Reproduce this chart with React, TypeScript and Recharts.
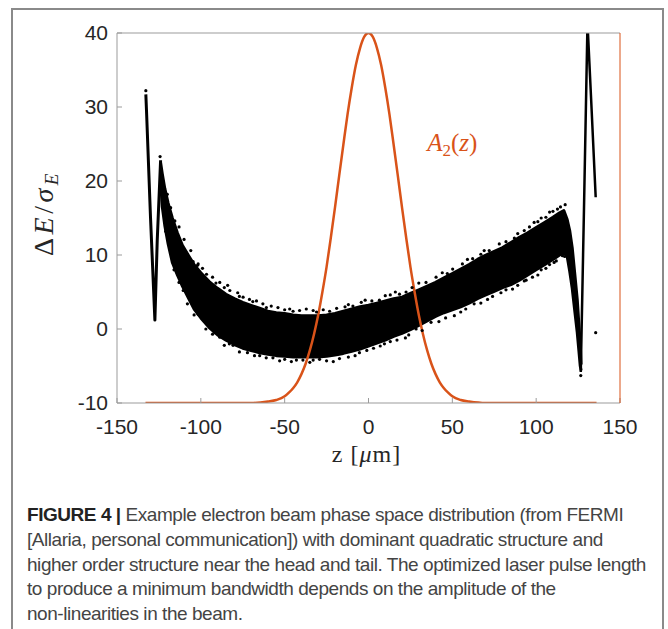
import React from "react";
import { ComposedChart, Area, Line, Scatter, XAxis, YAxis, ReferenceDot } from "recharts";

const ORANGE = "#D95319";
const AXIS_GREY = "#9b9b9b";
const TEXT = "#262626";

const xTicks = [-150, -100, -50, 0, 50, 100, 150];
const yTicks = [-10, 0, 10, 20, 30, 40];

// dense core of the beam: z [um], lower / upper edge of the black band
const bandZ = [-124, -123, -121.5, -119.5, -117, -114, -111, -107, -104, -100, -95, -90, -85, -80, -75, -70, -65, -60, -55, -50, -45, -40, -35, -30, -25, -20, -15, -10, -5, 0, 5, 10, 15, 20, 25, 30, 35, 40, 45, 50, 55, 60, 65, 70, 75, 80, 85, 90, 95, 100, 105, 110, 114, 116.5, 118.5, 120, 121.5, 123, 124.5, 125.5, 126.3, 126.8];
const bandLo = [20, 16.5, 14, 11.5, 9, 7.3, 5.8, 4, 2.7, 1.5, 0.2, -0.8, -1.5, -2.1, -2.6, -2.9, -3.2, -3.4, -3.6, -3.7, -3.8, -3.8, -3.8, -3.8, -3.7, -3.5, -3.3, -3.0, -2.7, -2.3, -1.9, -1.5, -1.0, -0.6, -0.1, 0.5, 1.1, 1.7, 2.2, 2.6, 3.0, 3.5, 4.1, 4.6, 5.1, 5.6, 6.0, 6.6, 7.3, 8.0, 8.7, 9.4, 10.0, 10.4, 9.8, 7.8, 5.5, 2.5, -0.5, -3, -5, -5.6];
const bandHi = [22.5, 21, 19, 17, 15, 13, 11.3, 9.8, 8.7, 7.6, 6.4, 5.5, 4.7, 4.1, 3.6, 3.2, 2.8, 2.4, 2.2, 2.1, 1.9, 1.8, 1.8, 1.8, 1.9, 2.1, 2.4, 2.7, 3.0, 3.2, 3.5, 3.8, 4.1, 4.3, 4.8, 5.3, 5.8, 6.3, 6.9, 7.5, 8.1, 8.7, 9.4, 10.0, 10.5, 11.0, 11.7, 12.4, 13.0, 13.7, 14.4, 15.1, 15.7, 16.0, 14.8, 13.3, 11, 7.5, 4, 0.5, -2, -4.8];

// head streak (left) and tail streak (right)
const headZ = [-132.8, -132.4, -130, -127.4, -126, -124];
const headV = [31.7, 29.5, 15, 1.2, 12, 22.8];
const tailZ = [126.6, 128.5, 130.5, 130.9, 133, 135.5];
const tailV = [-5.8, 16, 40, 40, 30, 17.8];

// loose particles above the band
const upperStrayZ = [-124.3, -120, -118, -115.5, -113, -110, -108.1, -106, -104.6, -102, -101.6, -99, -96.6, -93, -91, -88.7, -86, -84, -82.7, -78, -77, -74.8, -71, -69, -66.8, -63, -60.9, -58, -54, -50, -47, -45, -41.1, -37.1, -33, -31, -27, -23.2, -19, -14, -12, -9.3, -4.3, -2, 2, 6.5, 10, 13, 16, 18.5, 22.4, 26, 30, 34.3, 40.3, 44, 47, 50.2, 56, 59, 62.1, 67, 69, 72, 78, 82, 87, 89, 92.9, 96, 98.8, 101, 103, 105.8, 108, 110, 112.7, 114.5, 117.3];
const upperStrayV = [23.3, 18.2, 16.4, 14.6, 13.8, 12.1, 10.1, 10.6, 9.1, 8.6, 8.8, 8.2, 7.4, 7.0, 6.2, 6.3, 5.6, 5.9, 5.2, 4.9, 4.4, 4.3, 4.0, 3.7, 3.8, 3.4, 2.9, 3.1, 2.9, 2.6, 2.7, 2.4, 2.5, 2.7, 2.5, 2.3, 2.6, 2.4, 2.8, 3.0, 3.3, 3.1, 3.6, 3.9, 3.8, 3.9, 4.5, 4.6, 5.0, 4.7, 5.0, 5.6, 6.2, 6.3, 7.0, 7.6, 7.5, 8.1, 8.8, 9.4, 9.5, 10.1, 10.6, 10.6, 11.5, 11.8, 12.3, 12.9, 13.3, 13.8, 14.4, 14.5, 15.0, 15.1, 15.8, 15.9, 16.2, 16.5, 16.8];

// loose particles below the band
const lowerStrayZ = [-121, -116, -113, -110.5, -108, -104, -101.6, -97, -93, -88.7, -86, -83, -80.8, -77, -72.2, -68, -64.9, -61, -57, -53, -50, -46, -43, -39.1, -35, -33, -29.2, -25, -21, -17.3, -12, -8, -5.4, -1, 3, 7, 9.5, 13, 17, 22, 24, 28.4, 32, 37.3, 42, 46, 51.2, 55, 58, 63, 67, 71, 74, 79, 82, 85.9, 89, 92.9, 94, 97.8, 101, 103, 105.8, 108, 110.7, 112, 115.7, 117, 126.6, 135.5, -132.8];
const lowerStrayV = [13.2, 8.0, 6.3, 5.2, 3.4, 1.9, 2.0, 0.0, -0.7, -1.1, -2.2, -2.0, -2.2, -3.1, -3.2, -3.6, -3.6, -3.9, -3.9, -4.3, -4.1, -4.4, -4.2, -4.2, -4.5, -4.2, -4.1, -4.3, -4.4, -4.0, -3.8, -3.6, -3.2, -2.9, -2.6, -2.3, -2.0, -1.7, -1.5, -1.2, -0.8, 0.0, -0.2, 0.9, 1.0, 1.5, 1.8, 2.3, 2.7, 3.4, 3.5, 4.0, 4.4, 4.9, 5.3, 5.4, 5.9, 6.5, 6.6, 7.0, 7.3, 8.0, 8.2, 8.7, 9.0, 9.2, 9.9, 9.8, -6.3, -0.5, 32.2];

// laser pulse A2(z)
const pulseZ = [-133, -80, -70, -60, -55, -50, -47.5, -45, -42.5, -40, -37.5, -35, -32.5, -30, -27.5, -25, -22.5, -20, -17.5, -15, -12.5, -10, -7.5, -5, -2.5, 0, 2.5, 5, 7.5, 10, 12.5, 15, 17.5, 20, 22.5, 25, 27.5, 30, 32.5, 35, 37.5, 40, 42.5, 45, 47.5, 50, 55, 60, 70, 80, 136];
const pulseA = [-10, -10, -10, -9.8, -9.6, -9.1, -8.6, -8.0, -7.2, -6.1, -4.7, -2.9, -0.7, 1.9, 5.0, 8.4, 12.3, 16.4, 20.7, 24.9, 29.0, 32.6, 35.7, 38.0, 39.5, 40, 39.5, 38.0, 35.7, 32.6, 29.0, 24.9, 20.7, 16.4, 12.3, 8.4, 5.0, 1.9, -0.7, -2.9, -4.7, -6.1, -7.2, -8.0, -8.6, -9.1, -9.6, -9.8, -10, -10, -10];

const captionLines = [
    "[Allaria, personal communication]) with dominant quadratic structure and",
    "higher order structure near the head and tail. The optimized laser pulse length",
    "to produce a minimum bandwidth depends on the amplitude of the",
    "non-linearities in the beam."
];

const band = bandZ.map((z, i) => ({ z, lo: bandLo[i], hi: bandHi[i] }));
const head = headZ.map((z, i) => ({ z, v: headV[i] }));
const tail = tailZ.map((z, i) => ({ z, v: tailV[i] }));
const stray = [
    ...upperStrayZ.map((z, i) => ({ z, v: upperStrayV[i] })),
    ...lowerStrayZ.map((z, i) => ({ z, v: lowerStrayV[i] }))
];
const pulse = pulseZ.map((z, i) => ({ z, v: pulseA[i] }));

const tickStyle = { fill: TEXT, fontSize: 21, fontFamily: "Liberation Sans, Arial, sans-serif" };

function YLabel(props: any) {
    const vb = props.viewBox;
    const x = vb.x - 4;
    const y = vb.y + vb.height / 2 - 5;
    return (
        <text x={x} y={y} transform={`rotate(-90 ${x} ${y})`} textAnchor="middle"
            fontFamily="Liberation Serif, serif" fontSize={28} fill={TEXT} letterSpacing={3.5}>
            <tspan>Δ</tspan>
            <tspan fontStyle="italic">E</tspan>
            <tspan>/</tspan>
            <tspan fontStyle="italic">σ</tspan>
            <tspan fontStyle="italic" fontSize={19} dy={5}>E</tspan>
        </text>
    );
}

function XLabel(props: any) {
    const vb = props.viewBox;
    return (
        <text x={vb.x + vb.width / 2 - 2} y={vb.y + 59} textAnchor="middle"
            fontFamily="Liberation Serif, serif" fontSize={24} fill={TEXT} letterSpacing={1}>
            z [<tspan fontStyle="italic">μ</tspan>m]
        </text>
    );
}

function PulseLabel(props: any) {
    const vb = props.viewBox;
    return (
        <text x={vb.x} y={vb.y} textAnchor="middle" fontFamily="Liberation Serif, serif" fontSize={25} fill={ORANGE}>
            <tspan fontStyle="italic">A</tspan>
            <tspan fontSize={17} dy={5}>2</tspan>
            <tspan dy={-5}>(</tspan>
            <tspan fontStyle="italic">z</tspan>
            <tspan>)</tspan>
        </text>
    );
}

const dotShape = (p: any) => <circle cx={p.cx} cy={p.cy} r={1.6} fill="#000" />;

export default function App() {
    return (
        <div style={{ position: "absolute", left: 0, top: 0, width: 668, height: 629, overflow: "hidden", background: "#fff" }}>
            <div style={{ position: "absolute", left: 11, top: 8, width: 653, height: 700, boxSizing: "border-box", border: "2px solid #8a8a8a" }} />
            <div style={{ position: "absolute", left: 0, top: 0 }}>
                <ComposedChart width={668} height={480} margin={{ top: 32, right: 47, bottom: 37, left: 57 }}>
                    <XAxis type="number" dataKey="z" domain={[-150, 150]} ticks={xTicks} allowDataOverflow
                        height={40} tickSize={-5} tickMargin={21} tick={tickStyle}
                        axisLine={{ stroke: AXIS_GREY }} tickLine={{ stroke: AXIS_GREY }} label={XLabel} />
                    <XAxis xAxisId="top" orientation="top" type="number" domain={[-150, 150]} ticks={xTicks} allowDataOverflow
                        height={1} tickSize={-5} tick={false}
                        axisLine={{ stroke: AXIS_GREY }} tickLine={{ stroke: AXIS_GREY }} />
                    <YAxis type="number" dataKey="v" domain={[-10, 40]} ticks={yTicks} allowDataOverflow
                        width={60} tickSize={-5} tickMargin={14} tick={tickStyle}
                        axisLine={{ stroke: AXIS_GREY }} tickLine={{ stroke: AXIS_GREY }} label={YLabel} />
                    <YAxis yAxisId="right" orientation="right" type="number" domain={[-10, 40]} allowDataOverflow
                        width={1} tick={false} tickLine={false} axisLine={{ stroke: ORANGE }} />

                    <Area data={band} dataKey={(d: any) => [d.lo, d.hi]} type="linear"
                        stroke="#000" strokeWidth={3} strokeLinejoin="round" fill="#000" fillOpacity={1} isAnimationActive={false} />
                    <Scatter data={stray} dataKey="v" shape={dotShape} isAnimationActive={false} />
                    <Line data={head} dataKey="v" type="linear" stroke="#000" strokeWidth={3}
                        dot={false} strokeLinejoin="round" isAnimationActive={false} />
                    <Line data={tail} dataKey="v" type="linear" stroke="#000" strokeWidth={2.5}
                        dot={false} strokeLinejoin="round" isAnimationActive={false} />
                    <Line data={pulse} dataKey="v" type="monotone" stroke={ORANGE} strokeWidth={2.5}
                        dot={false} isAnimationActive={false} />
                    <ReferenceDot x={50} y={24} r={0} fill="none" stroke="none" label={PulseLabel} />
                </ComposedChart>
            </div>
            <div style={{ position: "absolute", left: 27, top: 503, fontFamily: "Liberation Sans, Arial, sans-serif", fontSize: 19, letterSpacing: "-0.45px", lineHeight: "24.8px", color: "#444", whiteSpace: "nowrap" }}>
                <div><b style={{ color: "#222" }}>FIGURE 4 |</b> Example electron beam phase space distribution (from FERMI</div>
                {captionLines.map(l => <div key={l}>{l}</div>)}
            </div>
        </div>
    );
}
